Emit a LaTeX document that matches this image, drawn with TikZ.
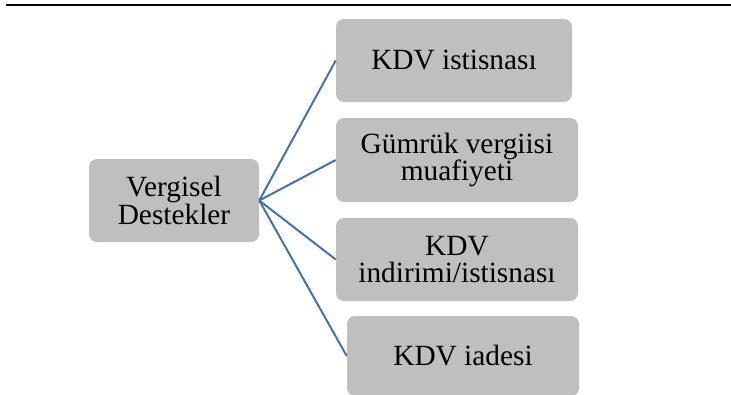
\documentclass[tikz,border=0pt]{standalone}
\usepackage{fontspec}
\setmainfont{Liberation Serif}
\usepackage{tikz}
\definecolor{boxgray}{RGB}{191,191,191}
\definecolor{linkblue}{RGB}{69,114,167}

\begin{document}
\begin{tikzpicture}[x=0.75pt,y=-0.75pt,
    box/.style={fill=boxgray, rounded corners=6pt, align=center, inner sep=0pt,
                font=\fontsize{22}{20.5}\selectfont},
    link/.style={draw=linkblue, line width=1.5pt}]
  \clip (0,0) rectangle (731,394);
  \draw[line width=1.6pt] (6,5) -- (731,5);

  \node[box, minimum width=127.5pt, minimum height=62.25pt] (vd) at (174,200.5) {Vergisel\\Destekler};
  \node[box, minimum width=177pt, minimum height=62.25pt]   (k1) at (454,60.5)  {KDV istisnası};
  \node[box, minimum width=181.5pt, minimum height=63pt]    (k2) at (457,160)   {Gümrük vergiisi\\muafiyeti};
  \node[box, minimum width=181.5pt, minimum height=62.25pt] (k3) at (457,259.5) {KDV\\indirimi/istisnası};
  \node[box, minimum width=174pt, minimum height=60pt]      (k4) at (463,356)   {KDV iadesi};

  \path[link]
        (vd.east) edge (k1.west)
        (vd.east) edge (k2.west)
        (vd.east) edge (k3.west)
        (vd.east) edge (k4.west);
\end{tikzpicture}
\end{document}
